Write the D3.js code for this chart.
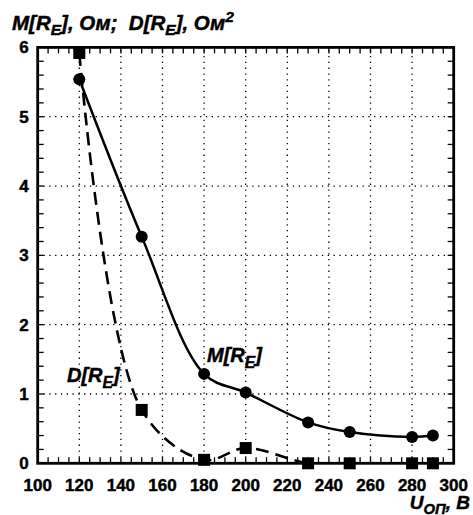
<!DOCTYPE html>
<html>
<head>
<meta charset="utf-8">
<script src="https://cdn.jsdelivr.net/npm/d3@7"></script>
<style>
  body { margin: 0; background: #fff; }
  svg text { font-family: Arial, "Liberation Sans", sans-serif; font-weight: bold; white-space: pre;
             stroke: #000; stroke-width: 0.45px; }
</style>
</head>
<body>
<div class="container"></div>
<script>
const width = 473, height = 515;

// data
const voltage = [120, 150, 180, 200, 230, 250, 280, 290];
const meanR = [5.54, 3.27, 1.29, 1.02, 0.59, 0.45, 0.38, 0.40];
const dispR = [5.92, 0.77, 0.05, 0.22, 0.0, 0.0, 0.0, 0.0];
const xTicks = [100, 120, 140, 160, 180, 200, 220, 240, 260, 280, 300];
const yTicks = [0, 1, 2, 3, 4, 5, 6];

const svg = d3.select(".container")
    .append("svg")
    .attr("width", width)
    .attr("height", height);

const x = d3.scaleLinear().domain([100, 300]).range([37.7, 453.7]);
const y = d3.scaleLinear().domain([0, 6]).range([463.3, 47.4]);
const x0 = x.range()[0], x1 = x.range()[1], y0 = y.range()[0], y1 = y.range()[1];

svg.append("clipPath").attr("id", "clip")
    .append("rect").attr("x", x0).attr("y", y1 - 10).attr("width", x1 - x0).attr("height", y0 - y1 + 10);

// dotted grid
const grid = svg.append("g").attr("stroke", "#000").attr("stroke-width", 1.3).attr("stroke-dasharray", "1.3,4.5");
grid.selectAll(".gx").data(xTicks.slice(1, -1)).enter().append("line")
    .attr("x1", d => x(d)).attr("x2", d => x(d)).attr("y1", y0).attr("y2", y1);
grid.selectAll(".gy").data(yTicks.slice(1, -1)).enter().append("line")
    .attr("x1", x0).attr("x2", x1).attr("y1", d => y(d)).attr("y2", d => y(d));

// minor ticks inside the frame
const tk = svg.append("g").attr("stroke", "#000").attr("stroke-width", 1.3);
const xMinor = d3.range(105, 300, 5);
tk.selectAll(".tb").data(xMinor).enter().append("line")
    .attr("x1", d => x(d)).attr("x2", d => x(d)).attr("y1", y0).attr("y2", y0 - 6);
tk.selectAll(".tt").data(xMinor).enter().append("line")
    .attr("x1", d => x(d)).attr("x2", d => x(d)).attr("y1", y1).attr("y2", y1 + 6);
const yMinor = d3.range(1, 30).map(i => i * 0.2);
tk.selectAll(".tl").data(yMinor).enter().append("line")
    .attr("x1", x0).attr("x2", x0 + 6).attr("y1", d => y(d)).attr("y2", d => y(d));
tk.selectAll(".tr").data(yMinor).enter().append("line")
    .attr("x1", x1).attr("x2", x1 - 6).attr("y1", d => y(d)).attr("y2", d => y(d));

// curves
const mData = voltage.map((v, i) => [v, meanR[i]]);
const dData = voltage.map((v, i) => [v, dispR[i]]);
const line = d3.line().x(d => x(d[0])).y(d => y(d[1]));

svg.append("path")
    .datum(dData)
    .attr("clip-path", "url(#clip)")
    .attr("fill", "none").attr("stroke", "#000").attr("stroke-width", 2.6)
    .attr("stroke-dasharray", "13,7")
    .attr("d", line.curve(d3.curveCatmullRom.alpha(0.5)));

svg.append("path")
    .datum(mData)
    .attr("fill", "none").attr("stroke", "#000").attr("stroke-width", 2.5)
    .attr("d", line.curve(d3.curveCatmullRom.alpha(0.5)));

svg.selectAll(".sq").data(dData).enter().append("rect")
    .attr("x", d => x(d[0]) - 6).attr("y", d => y(d[1]) - 6)
    .attr("width", 12).attr("height", 12).attr("fill", "#000");
svg.selectAll(".dot").data(mData).enter().append("circle")
    .attr("cx", d => x(d[0])).attr("cy", d => y(d[1])).attr("r", 6).attr("fill", "#000");

// frame
svg.append("rect").attr("x", x0).attr("y", y1).attr("width", x1 - x0).attr("height", y0 - y1)
    .attr("fill", "none").attr("stroke", "#000").attr("stroke-width", 2.8);

// tick labels
svg.selectAll(".xl").data(xTicks).enter().append("text")
    .attr("x", d => x(d)).attr("y", y0 + 28)
    .attr("text-anchor", "middle").attr("font-size", 17).text(d => d);
svg.selectAll(".yl").data(yTicks).enter().append("text")
    .attr("x", x0 - 9).attr("y", d => y(d) + 6)
    .attr("text-anchor", "end").attr("font-size", 17).text(d => d);

// labels with subscripts
function sub(base, s, rest, px, py, size, anchor) {
  const tx = svg.append("text").attr("x", px).attr("y", py).attr("font-size", size)
      .attr("font-style", "italic").attr("text-anchor", anchor || "start");
  tx.append("tspan").text(base);
  tx.append("tspan").attr("dy", size * 0.28).attr("font-size", size * 0.78).text(s);
  tx.append("tspan").attr("dy", -size * 0.28).text(rest);
  return tx;
}
const title = svg.append("text").attr("x", 12).attr("y", 30).attr("font-size", 20.5).attr("font-style", "italic");
title.append("tspan").text("M[R");
title.append("tspan").attr("dy", 5).attr("font-size", 15.5).text("E");
title.append("tspan").attr("dy", -5).text("], Ом;  D[R");
title.append("tspan").attr("dy", 5).attr("font-size", 15.5).text("E");
title.append("tspan").attr("dy", -5).text("], Ом");
title.append("tspan").attr("dy", -8).attr("font-size", 15.5).text("2");

sub("M[R", "E", "]", 207, 362, 20);
sub("D[R", "E", "]", 67, 382, 20);
sub("U", "ОП", ", В", 470, 509, 19, "end");
</script>
</body>
</html>
